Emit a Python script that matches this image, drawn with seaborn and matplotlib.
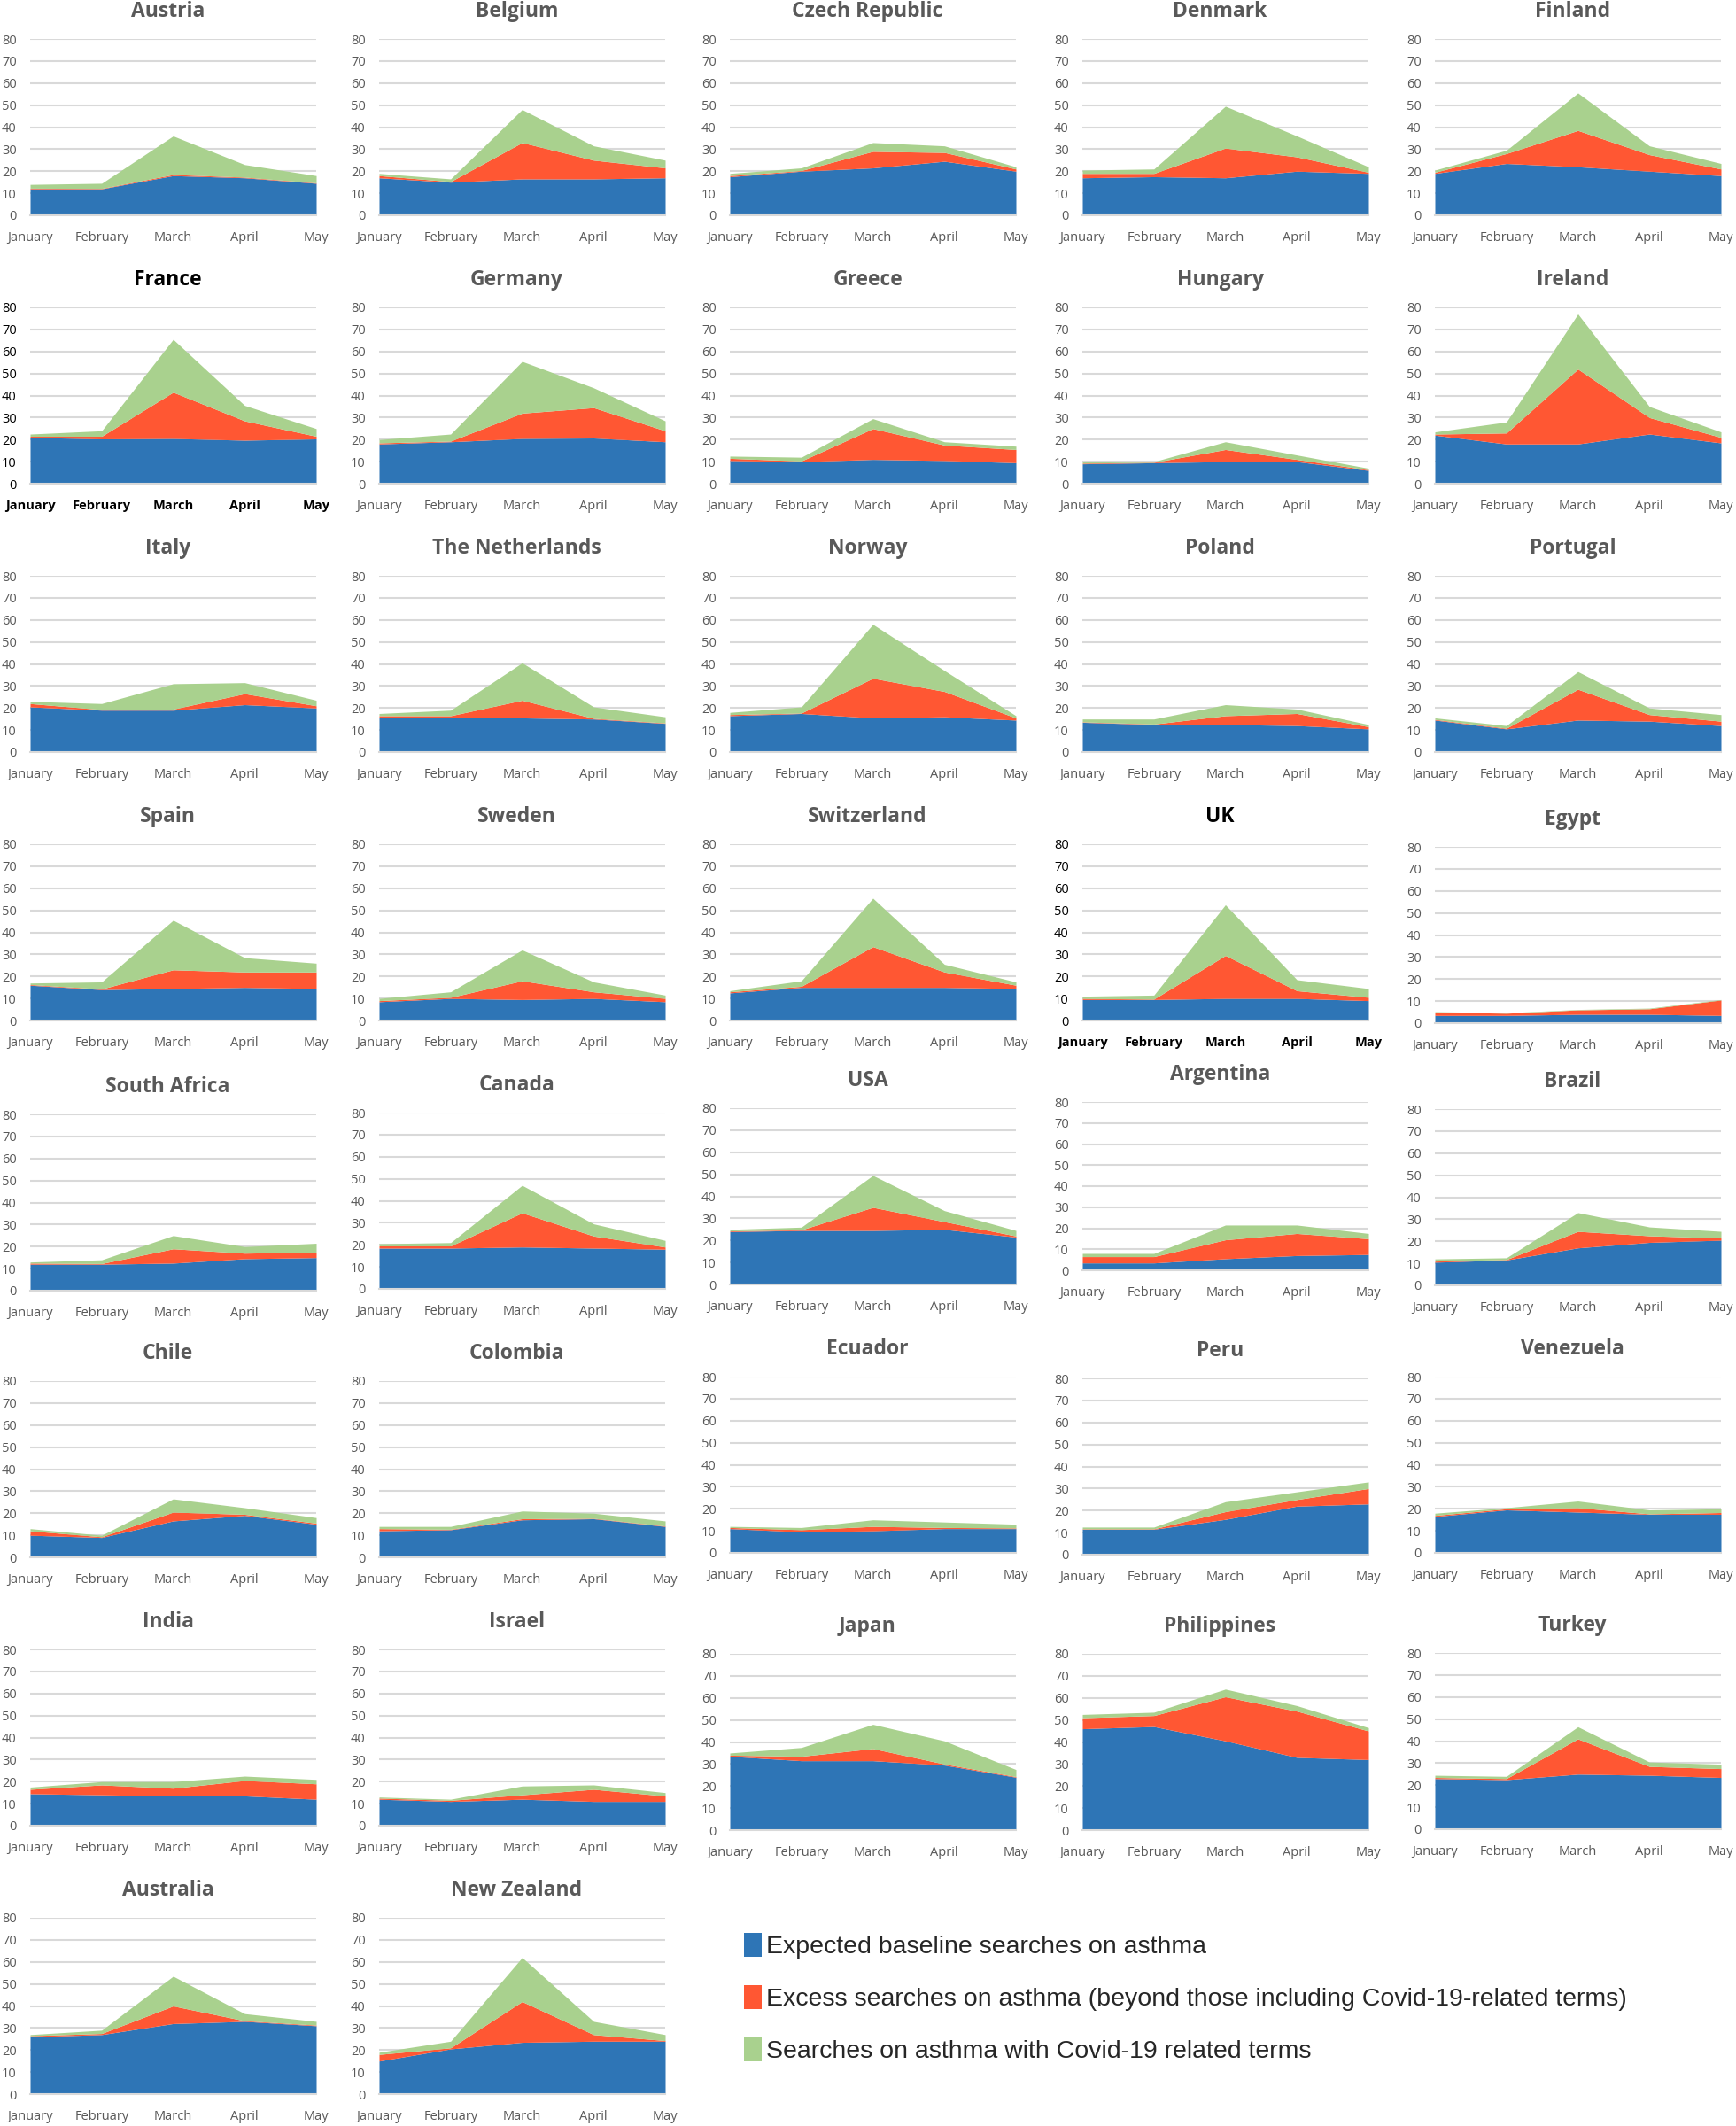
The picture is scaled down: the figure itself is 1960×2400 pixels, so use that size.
import matplotlib
matplotlib.use('Agg')
import matplotlib.pyplot as plt
import seaborn as sns
from matplotlib.patches import Patch

# Data (monthly relative search volumes)
months = ['January', 'February', 'March', 'April', 'May']

countries = ['Austria', 'Belgium', 'Czech Republic', 'Denmark', 'Finland',
             'France', 'Germany', 'Greece', 'Hungary', 'Ireland',
             'Italy', 'The Netherlands', 'Norway', 'Poland', 'Portugal',
             'Spain', 'Sweden', 'Switzerland', 'UK', 'Egypt',
             'South Africa', 'Canada', 'USA', 'Argentina', 'Brazil',
             'Chile', 'Colombia', 'Ecuador', 'Peru', 'Venezuela',
             'India', 'Israel', 'Japan', 'Philippines', 'Turkey',
             'Australia', 'New Zealand']

# countries drawn with black (highlighted) labels
highlight = ['France', 'UK']

baseline = [
    [12, 12, 18, 17, 14.5],
    [17, 15, 16.5, 16.5, 17],
    [17.5, 20, 21.5, 24.5, 20],
    [17, 17.5, 17, 20, 19],
    [19, 23.5, 22, 20, 18],
    [21, 20.3, 20.5, 19.7, 20.3],
    [18, 19, 20.5, 20.7, 19],
    [10.5, 10, 11, 10.5, 9.5],
    [9, 9.5, 10, 10, 6],
    [22, 18, 18, 22.5, 18.5],
    [20.5, 19, 19, 21.5, 20],
    [15.5, 15.5, 15.5, 15, 13],
    [16.5, 17.5, 15.5, 16, 14.5],
    [13.5, 12.5, 12.5, 12, 10.5],
    [14.5, 10.5, 14.5, 14, 12],
    [16, 14, 14.5, 15, 14.5],
    [8.5, 10, 9.5, 10, 8.5],
    [12.5, 15, 15, 15, 14.5],
    [9.5, 9.5, 10, 10, 9],
    [3.5, 3.5, 4, 4, 3.5],
    [12, 12, 12.5, 14.5, 15],
    [18.5, 18.5, 19, 18.5, 18],
    [24, 24.5, 24.5, 25, 21.5],
    [3.5, 3.5, 5.5, 7, 7.5],
    [10.5, 11.5, 17, 19.5, 20.5],
    [10, 9, 16.5, 19, 15],
    [12, 12.5, 17, 17.5, 14],
    [11, 9.5, 10, 11, 11],
    [11.5, 11.5, 16, 22, 23],
    [16.5, 19.5, 18.5, 17.5, 17.5],
    [14.5, 14, 13.5, 13.5, 12],
    [12, 11, 12, 11, 11],
    [33.5, 31.5, 31.5, 29.5, 24],
    [46, 47, 40.5, 33, 32],
    [23, 22.5, 25, 24.5, 23.5],
    [26, 27, 32, 33, 31],
    [15, 20.5, 23.5, 24, 24],
]

excess = [
    [0.3, 0.2, 0.5, 0.3, 0.2],
    [1, 0.3, 16.5, 8.5, 4.5],
    [0.5, 0.3, 7.5, 4, 1],
    [2, 1.5, 13.5, 6.5, 0.5],
    [0.5, 4.5, 16.5, 7.5, 3],
    [0.5, 1.2, 21, 8.8, 1.2],
    [0.5, 0.3, 11.5, 13.8, 5],
    [1, 0.3, 14, 7, 6],
    [0.3, 0.2, 5.5, 1, 0.3],
    [0.5, 5, 34, 7.5, 2.5],
    [1.5, 0.3, 0.5, 5, 1],
    [1, 1, 8, 0.3, 0.2],
    [0.5, 0.2, 18, 11.5, 1],
    [0.2, 0.2, 4, 5.5, 1],
    [0.3, 0.3, 14, 3, 2],
    [0.3, 0.3, 8.5, 7, 7.5],
    [0.5, 0.5, 8.5, 3, 1.5],
    [0.5, 0.5, 18.5, 7, 1.5],
    [0.5, 0.2, 19.5, 3.5, 1.5],
    [1.5, 1, 2, 2.5, 7],
    [0.5, 0.3, 6.5, 2.5, 2.5],
    [1, 1, 15.5, 5.5, 1],
    [0.3, 0.3, 10.5, 3.5, 0.5],
    [3, 3, 9, 10.5, 7.5],
    [0.5, 0.2, 7.5, 3, 1],
    [2, 0.3, 4, 0.5, 0.5],
    [1, 0.2, 0.5, 0.2, 0.2],
    [0.5, 1, 2, 0.5, 0.3],
    [0.2, 0.2, 3.5, 3, 7],
    [0.5, 0.5, 2, 0.2, 0.8],
    [2, 4.5, 3.5, 7, 7],
    [0.5, 0.5, 2, 5.5, 2.5],
    [0.5, 2, 5.5, 0.5, 0.3],
    [5, 5, 20, 21, 13],
    [0.5, 0.5, 16, 4, 4],
    [0.5, 0.5, 8, 0.3, 0.3],
    [3, 0.5, 18.5, 3, 0.3],
]

covid = [
    [1.7, 2.3, 17.5, 5.7, 3.3],
    [1, 1.2, 15, 6.5, 3.5],
    [1, 1.2, 4, 3, 1],
    [1.5, 2, 19, 9.5, 2.5],
    [1, 1.5, 17, 4, 2.5],
    [1, 2.5, 24, 7, 3.5],
    [1.5, 3.2, 23.5, 9, 4.5],
    [1, 1.7, 4.5, 1.5, 1.5],
    [0.7, 0.3, 3.5, 2, 0.7],
    [1, 5, 25, 5, 2.5],
    [1, 2.7, 11.5, 5, 2.5],
    [1, 2.5, 17, 5.2, 2.8],
    [1, 2.8, 24.5, 9.5, 1],
    [1.3, 2.3, 5, 2, 1],
    [0.7, 1.2, 8, 3, 3],
    [0.7, 3.2, 22.5, 6.5, 4],
    [1, 2.5, 14, 4.5, 1.5],
    [0.5, 2.5, 22, 3.5, 1.5],
    [1, 1.8, 23, 5, 4],
    [0.2, 0.2, 0.2, 0.3, 0.2],
    [0.5, 1.7, 6, 3, 4],
    [1, 1.5, 12.5, 5.5, 3],
    [0.7, 1.2, 14.5, 5, 2.5],
    [1.5, 1.5, 7, 4, 2.5],
    [1, 0.8, 8.5, 4, 3],
    [1, 0.7, 6, 3, 2.5],
    [1, 1.3, 3.5, 2.3, 2.3],
    [0.5, 1, 3, 2.5, 1.7],
    [0.8, 0.8, 4.5, 3.5, 3],
    [1, 0.5, 3, 1.8, 1.7],
    [1, 1.5, 3, 2, 2],
    [0.5, 0.5, 4, 2, 1.5],
    [1, 4, 11, 10.5, 3.2],
    [1.5, 1.5, 3.5, 2.5, 1.5],
    [1, 1, 5.5, 2, 2],
    [0.5, 1.5, 13.5, 3.2, 1.7],
    [1, 3, 20, 6, 2.7],
]

series_labels = ['Expected baseline searches on asthma',
                 'Excess searches on asthma (beyond those including Covid-19-related terms)',
                 'Searches on asthma with Covid-19 related terms']
colors = ['#2E75B6', '#FF5733', '#A9D18E']

sns.set_style('white')
plt.rcParams['font.family'] = ['Open Sans', 'DejaVu Sans']

W, H = 1960, 2400
fig = plt.figure(figsize=(W / 100, H / 100), dpi=100)

# panel geometry in pixels
col_left = [34, 428, 824, 1222, 1620]
panel_w = 323
panel_h = 199
row_top = 44
row_step = 303

# small per-panel vertical nudges (px) and height changes seen in the original
shift = {'Egypt': 3, 'South Africa': 2, 'USA': -5, 'Argentina': -12, 'Brazil': -4,
         'Ecuador': -5, 'Venezuela': -5, 'Peru': -3,
         'Japan': 5, 'Philippines': 5, 'Turkey': 4}
height_fix = {'Argentina': -9}

for i, name in enumerate(countries):
    r, c = divmod(i, 5)
    top = row_top + r * row_step + shift.get(name, 0)
    ph = panel_h + height_fix.get(name, 0)
    ax = fig.add_axes([col_left[c] / W, 1 - (top + ph) / H, panel_w / W, ph / H])
    ax.stackplot(range(len(months)), baseline[i], excess[i], covid[i],
                 colors=colors, linewidth=0)

    dark = name in highlight
    txt_col = 'black' if dark else '#595959'

    ax.set_xlim(0, 4)
    ax.set_ylim(0, 80)
    ax.set_yticks(range(0, 81, 10))
    ax.set_xticks(range(len(months)))
    ax.set_xticklabels(months, fontsize=10.5, color=txt_col,
                       fontweight='bold' if dark else 'normal')
    ax.tick_params(axis='y', length=0, pad=11, labelsize=10.5, labelcolor=txt_col)
    ax.tick_params(axis='x', length=6, width=1, color='#D9D9D9', pad=7)
    ax.yaxis.grid(True, color='#D9D9D9', linewidth=1.5)
    ax.set_axisbelow(True)
    sns.despine(ax=ax, left=True)
    ax.spines['bottom'].set_color('#D9D9D9')
    ax.spines['bottom'].set_linewidth(1.5)

    ax.text(0.5 - 6 / panel_w, 1 + 31 / ph, name, transform=ax.transAxes,
            ha='center', va='center', fontsize=16.5, fontweight='bold',
            color='black' if dark else '#595959')

handles = [Patch(facecolor=col, edgecolor='none') for col in colors]
fig.legend(handles, series_labels, loc='upper left',
           bbox_to_anchor=(814 / W, 1 - 2156 / H), frameon=False,
           prop={'family': 'Liberation Sans', 'size': 20.5},
           handlelength=0.7, handleheight=1.1, handletextpad=0.2, labelspacing=1.05)

fig.savefig('out.png', dpi=100)
